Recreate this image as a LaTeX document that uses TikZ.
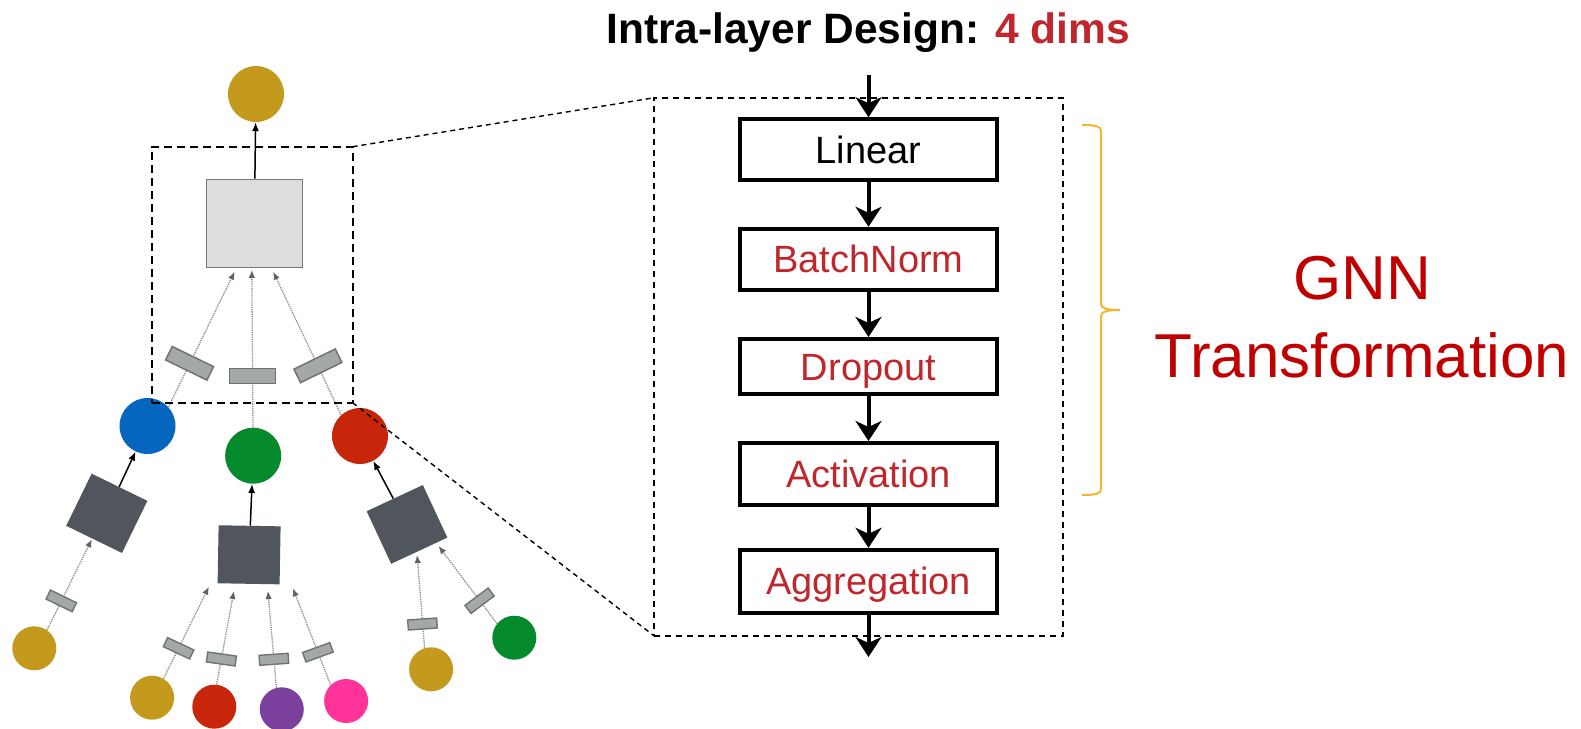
\documentclass[tikz,border=0pt]{standalone}
\usepackage{fontspec}
\setmainfont{Liberation Sans}
\usetikzlibrary{arrows.meta}

\definecolor{ngold}{HTML}{C49A1E}
\definecolor{nblue}{HTML}{0566C0}
\definecolor{ngreen}{HTML}{05892D}
\definecolor{nred}{HTML}{C8260A}
\definecolor{npurple}{HTML}{7B3F9E}
\definecolor{npink}{HTML}{FF3399}
\definecolor{ndark}{HTML}{51555C}
\definecolor{nlight}{HTML}{DCDDDF}
\definecolor{nlightedge}{HTML}{75787C}
\definecolor{efill}{HTML}{A5A8A8}
\definecolor{eedge}{HTML}{6F7375}
\definecolor{cline}{HTML}{8C8F92}
\definecolor{ctip}{HTML}{5F6368}
\definecolor{tred}{HTML}{C0272D}
\definecolor{gred}{HTML}{C00000}
\definecolor{bracec}{HTML}{F2B631}

\begin{document}
\begin{tikzpicture}[x=1pt,y=-1pt,
  bigc/.style={circle,inner sep=0pt,minimum size=56pt},
  smallc/.style={circle,inner sep=0pt,minimum size=44pt},
  lsq/.style={rectangle,fill=nlight,draw=nlightedge,line width=1.5pt,inner sep=0pt,minimum width=96pt,minimum height=88pt},
  dsq/.style={rectangle,fill=ndark,inner sep=0pt,minimum width=62pt,minimum height=58pt},
  ebox/.style={rectangle,fill=efill,draw=eedge,line width=1.5pt,inner sep=0pt,minimum width=46pt,minimum height=15pt},
  sbox/.style={rectangle,fill=efill,draw=eedge,line width=1.4pt,inner sep=0pt,minimum width=29pt,minimum height=10pt},
  conn/.style={draw=cline,line width=1.3pt,densely dotted,-{Latex[length=8pt,width=6.5pt,color=ctip]}},
  blk/.style={draw=black,line width=1.5pt,-{Latex[length=9pt,width=7pt]}},
  stage/.style={rectangle,draw=black,line width=4pt,inner sep=0pt,minimum width=257pt,
    text height=27pt,text depth=0pt,font=\fontsize{38}{46}\selectfont,text=tred},
  flow/.style={draw=black,line width=4pt,-{Stealth[length=20pt,width=26pt,inset=6pt]}},
  zsmall/.style={rectangle,draw=black,line width=2pt,dash pattern=on 8pt off 5pt,inner sep=0pt,outer sep=0pt},
  zbig/.style={rectangle,draw=black,line width=2pt,dash pattern=on 6pt off 5pt,inner sep=0pt,outer sep=0pt},
  zline/.style={draw=black,line width=1.4pt,dash pattern=on 5pt off 4pt},
  bracestyle/.style={draw=bracec,line width=2pt}
]
\fill[white] (0,0) rectangle (1581,728);
\useasboundingbox (0,0) rectangle (1581,728);

% ---------- computation tree ----------
\node[bigc,fill=ngold] (t0) at (256,94) {};
\node[lsq] (L) at (254.3,223.3) {};
\node[bigc,fill=nblue] (b1) at (147.5,426) {};
\node[bigc,fill=ngreen] (g1) at (253.2,455.7) {};
\node[bigc,fill=nred] (r1) at (360,436) {};
\node[dsq,rotate=-26] (D1) at (106.8,513.3) {};
\node[dsq,rotate=-1] (D2) at (249.1,554.8) {};
\node[dsq,rotate=25] (D3) at (407,524.4) {};

\node[smallc,fill=ngold] (c4) at (34.3,648.3) {};
\node[smallc,fill=ngold] (c5) at (152.1,697.7) {};
\node[smallc,fill=nred] (c6) at (214.3,706.7) {};
\node[smallc,fill=npurple] (c7) at (281.8,709.3) {};
\node[smallc,fill=npink] (c8) at (346.1,701) {};
\node[smallc,fill=ngold] (c9) at (431.1,669.3) {};
\node[smallc,fill=ngreen] (c10) at (514.3,637.7) {};

% arrow tips of the message edges
\coordinate (a1) at (234.6,271.7);
\coordinate (a2) at (251.8,270);
\coordinate (a3) at (273.2,271.7);
\coordinate (a4) at (91.8,539.3);
\coordinate (a5) at (208.9,586.7);
\coordinate (a6) at (233.9,591);
\coordinate (a7) at (267.9,591);
\coordinate (a8) at (292.9,588.3);
\coordinate (a9) at (417.1,555);
\coordinate (a10) at (438.6,546);

% message edges
\draw[conn] (b1.42) -- (a1);
\draw[conn] (g1) -- (a2);
\draw[conn] (r1.132) -- (a3);
\draw[conn] (c4.55) -- (a4);
\draw[conn] (c5.59) -- (a5);
\draw[conn] (c6.84) -- (a6);
\draw[conn] (c7.104) -- (a7);
\draw[conn] (c8.134) -- (a8);
\draw[conn] (c9.107) -- (a9);
\draw[conn] (c10.141) -- (a10);

% transformation boxes on the edges
\node[ebox,rotate=-26] (e1) at (189.6,363.3) {};
\node[ebox] (e2) at (252.5,375.8) {};
\node[ebox,rotate=26] (e3) at (317.9,365.8) {};
\node[sbox,rotate=-26] (e4) at (61.3,600.9) {};
\node[sbox,rotate=-25] (e5) at (178.6,648.3) {};
\node[sbox,rotate=-8] (e6) at (221.4,659) {};
\node[sbox,rotate=4] (e7) at (273.9,659.3) {};
\node[sbox,rotate=20] (e8) at (317.9,652.3) {};
\node[sbox,rotate=4] (e9) at (422.5,624) {};
\node[sbox,rotate=37] (e10) at (479.6,600.7) {};

% aggregation outputs
\draw[blk] (L) -- (t0);
\draw[blk] (D1) -- (b1);
\draw[blk] (D2) -- (g1);
\draw[blk] (D3) -- (r1);

% ---------- layer pipeline ----------
\node[anchor=base,font=\bfseries\fontsize{42.5}{50}\selectfont] (title) at (868,43.3)
  {Intra-layer Design: \textcolor{tred}{4 dims}};

\node[zbig,minimum width=408.6pt,minimum height=538.3pt] (zt) at (858.6,366.9) {};

\node[stage,minimum height=61pt,text=black] (lin) at (868.5,149.7) {Linear};
\node[stage,minimum height=61pt] (bn) at (868.5,259.3) {BatchNorm};
\node[stage,minimum height=55pt] (dp) at (868.5,366.5) {Dropout};
\node[stage,minimum height=62pt] (act) at (868.5,474) {Activation};
\node[stage,minimum height=63pt] (agg) at (868.5,581.3) {Aggregation};
\coordinate (fin) at (868.5,75);
\coordinate (fout) at (868.5,657);

\draw[flow] (fin) -- (lin);
\draw[flow] (lin) -- (bn);
\draw[flow] (bn) -- (dp);
\draw[flow] (dp) -- (act);
\draw[flow] (act) -- (agg);
\draw[flow] (agg) -- (fout);

% brace over the transformation stages
\draw[bracestyle] (1082,125) .. controls (1095,125) and (1101,126) .. (1101,131)
  -- (1101,304) .. controls (1101,308) and (1106,310) .. (1120,310)
  .. controls (1106,310) and (1101,312) .. (1101,316)
  -- (1101,489) .. controls (1101,494) and (1095,495) .. (1082,495);

\node[font=\fontsize{62}{77.6}\selectfont,text=gred,align=center] (gnn) at (1362,317)
  {GNN\\Transformation};

% ---------- zoom frame ----------
\node[zsmall,minimum width=200.7pt,minimum height=256pt] (zs) at (252.2,274.7) {};
\draw[zline] (zs.north east) -- (zt.north west);
\draw[zline] (zs.south east) -- (zt.south west);
\end{tikzpicture}
\end{document}
